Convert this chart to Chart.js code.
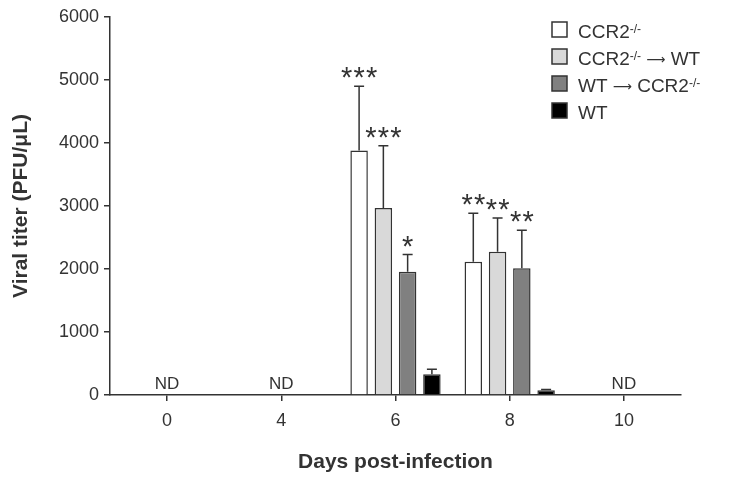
<!DOCTYPE html>
<html>
<head>
<meta charset="utf-8">
<script src="https://cdn.jsdelivr.net/npm/chart.js@4/dist/chart.umd.min.js"></script>
<style>
    html, body { margin: 0; padding: 0; background: #fff; }
    #wrap { width: 735px; height: 483px; position: relative; }
</style>
</head>
<body>
<div id="wrap"><canvas id="chart"></canvas></div>
<script>
// days post-infection
const days = ['0', '4', '6', '8', '10'];

// mean viral titer (PFU/uL); null = not detected
const ccr2Ko = [null, null, 3880, 2115, null];
const ccr2KoToWt = [null, null, 2970, 2275, null];
const wtToCcr2Ko = [null, null, 1955, 2010, null];
const wtOnly = [null, null, 330, 75, null];

// upper error (SEM)
const ccr2KoErr = [0, 0, 1020, 770, 0];
const ccr2KoToWtErr = [0, 0, 985, 535, 0];
const wtToCcr2KoErr = [0, 0, 275, 605, 0];
const wtOnlyErr = [0, 0, 80, 12, 0];

// significance marks
const ccr2KoStars = ['', '', '***', '**', ''];
const ccr2KoToWtStars = ['', '', '***', '**', ''];
const wtToCcr2KoStars = ['', '', '*', '**', ''];
const wtOnlyStars = ['', '', '', '', ''];

const ndLabels = ['ND', 'ND', '', '', 'ND'];

const yTicks = [0, 1000, 2000, 3000, 4000, 5000, 6000];

// legend names as pieces: [text, kind]  kind: 't' text, 's' superscript, 'a' arrow
const legendNames = [
    [['CCR2', 't'], ['-/-', 's']],
    [['CCR2', 't'], ['-/-', 's'], [' ', 't'], ['\u27f6', 'a'], [' WT', 't']],
    [['WT ', 't'], ['\u27f6', 'a'], [' CCR2', 't'], ['-/-', 's']],
    [['WT', 't']]
];

const INK = '#333333';
const FONT = "'Liberation Sans', Arial, sans-serif";
const fills = ['#ffffff', '#d9d9d9', '#808080', '#000000'];

const series = [
    { data: ccr2Ko, err: ccr2KoErr, stars: ccr2KoStars },
    { data: ccr2KoToWt, err: ccr2KoToWtErr, stars: ccr2KoToWtStars },
    { data: wtToCcr2Ko, err: wtToCcr2KoErr, stars: wtToCcr2KoStars },
    { data: wtOnly, err: wtOnlyErr, stars: wtOnlyStars }
];

const extrasPlugin = {
    id: 'extras',
    afterDatasetsDraw(chart) {
        const ctx = chart.ctx;
        const y = chart.scales.y;
        const x = chart.scales.x;
        ctx.save();

        // error bars + stars
        series.forEach((s, i) => {
            const meta = chart.getDatasetMeta(i);
            s.data.forEach((v, j) => {
                if (v === null) return;
                const bar = meta.data[j];
                const top = y.getPixelForValue(v + s.err[j]);
                ctx.strokeStyle = INK;
                ctx.lineWidth = 1.5;
                ctx.beginPath();
                ctx.moveTo(bar.x, bar.y);
                ctx.lineTo(bar.x, top);
                ctx.moveTo(bar.x - 5, top);
                ctx.lineTo(bar.x + 5, top);
                ctx.stroke();

                const st = s.stars[j];
                if (st) {
                    ctx.font = '29px ' + FONT;
                    ctx.fillStyle = INK;
                    ctx.textAlign = 'center';
                    ctx.textBaseline = 'alphabetic';
                    const m = ctx.measureText('*');
                    const base = top - 8 - m.actualBoundingBoxDescent;
                    const gap = 12.5;
                    const x0 = bar.x - (st.length - 1) * gap / 2;
                    for (let k = 0; k < st.length; k++) {
                        ctx.fillText('*', x0 + k * gap, base);
                    }
                }
            });
        });

        // ND labels
        ctx.font = '17px ' + FONT;
        ctx.fillStyle = INK;
        ctx.textAlign = 'center';
        ctx.textBaseline = 'alphabetic';
        ndLabels.forEach((t, j) => {
            if (t) ctx.fillText(t, x.getPixelForValue(j), 389);
        });

        // legend
        const lx = 552, ly = 22, step = 27, box = 15;
        legendNames.forEach((pieces, i) => {
            const top = ly + i * step;
            ctx.fillStyle = fills[i];
            ctx.fillRect(lx, top, box, box);
            ctx.strokeStyle = INK;
            ctx.lineWidth = 1.5;
            ctx.strokeRect(lx, top, box, box);
            let tx = lx + 26;
            const base = top + 16;
            ctx.textAlign = 'left';
            ctx.fillStyle = INK;
            pieces.forEach(([t, kind]) => {
                let yy = base;
                if (kind === 's') {
                    ctx.font = '12px ' + FONT;
                    yy = base - 5;
                } else if (kind === 'a') {
                    // size the arrow to about 19px wide, centred on the x-height
                    ctx.font = "20px 'DejaVu Sans', sans-serif";
                    const size = 20 * 19 / ctx.measureText(t).width;
                    ctx.font = size.toFixed(1) + "px 'DejaVu Sans', sans-serif";
                    const am = ctx.measureText(t);
                    yy = base - 6 - (am.actualBoundingBoxDescent - am.actualBoundingBoxAscent) / 2;
                } else {
                    ctx.font = '19px ' + FONT;
                }
                ctx.fillText(t, tx, yy);
                tx += ctx.measureText(t).width;
            });
        });
        ctx.restore();
    }
};

new Chart(document.getElementById('chart'), {
    type: 'bar',
    data: {
        labels: days,
        datasets: series.map((s, i) => ({
            data: s.data,
            backgroundColor: fills[i],
            borderColor: INK,
            borderWidth: 1.5,
            borderSkipped: 'start',
            categoryPercentage: 0.85,
            barPercentage: 0.72
        }))
    },
    options: {
        responsive: true,
        maintainAspectRatio: false,
        animation: false,
        layout: { padding: { left: 0, top: 17, right: 54, bottom: 0 } },
        plugins: { legend: { display: false }, tooltip: { enabled: false } },
        scales: {
            x: {
                afterFit: (s) => { s.height = 88; },
                grid: { display: true, offset: false, drawOnChartArea: false, drawTicks: true, tickLength: 6, color: INK, lineWidth: 1.5 },
                border: { display: true, color: INK, width: 1.5 },
                ticks: { color: INK, font: { family: FONT, size: 18 }, padding: 9 },
                title: {
                    display: true,
                    text: 'Days post-infection',
                    color: INK,
                    font: { family: FONT, size: 21, weight: 'bold' },
                    padding: { top: 0, bottom: 8 }
                }
            },
            y: {
                min: 0,
                max: 6000,
                afterFit: (s) => { s.width = 110; },
                afterBuildTicks: (s) => { s.ticks = yTicks.map(v => ({ value: v })); },
                grid: { display: true, drawOnChartArea: false, drawTicks: true, tickLength: 6, color: INK, lineWidth: 1.5 },
                border: { display: true, color: INK, width: 1.5 },
                ticks: { color: INK, font: { family: FONT, size: 18 }, padding: 5, callback: (v) => String(v) },
                title: {
                    display: true,
                    text: 'Viral titer (PFU/\u03bcL)',
                    color: INK,
                    font: { family: FONT, size: 21, weight: 'bold' },
                    padding: { top: 9, bottom: 0 }
                }
            }
        }
    },
    plugins: [extrasPlugin]
});
</script>
</body>
</html>
